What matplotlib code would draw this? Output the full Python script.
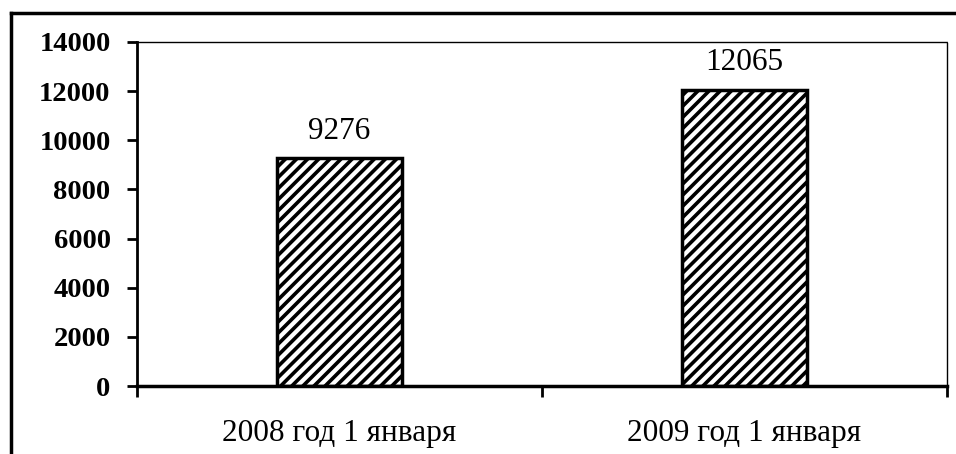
import matplotlib
matplotlib.use("Agg")
import matplotlib.pyplot as plt
from matplotlib.lines import Line2D

categories = ["2008 год 1 января", "2009 год 1 января"]
values = [9276, 12065]
yticks = [0, 2000, 4000, 6000, 8000, 10000, 12000, 14000]

plt.rcParams['font.family'] = ['Liberation Serif', 'DejaVu Serif']
plt.rcParams['hatch.linewidth'] = 2.6
plt.rcParams['hatch.color'] = 'black'

fig = plt.figure(figsize=(9.56, 4.54), dpi=100)
ax = fig.add_axes([137/956, 1-386/454, (947-137)/956, (386-42)/454])

x = list(range(len(categories)))
bars = ax.bar(x, values, width=0.31, color='white', edgecolor='black',
              linewidth=2.5, hatch='///')

ax.set_xlim(-0.5, len(categories) - 0.5)
ax.set_ylim(0, 14000)
ax.set_yticks(yticks)
ax.set_yticklabels([str(t) for t in yticks], fontsize=20.5, fontweight='bold')

ax.set_xticks(x)
ax.set_xticklabels(categories, fontsize=22.5)
ax.tick_params(axis='x', which='major', length=0, pad=24)
ax.set_xticks([-0.5, 0.5, 1.5], minor=True)
ax.tick_params(axis='x', which='minor', length=8, width=2, direction='out')
ax.tick_params(axis='y', length=7, width=2, direction='out', pad=12)

for b, v in zip(bars, values):
    ax.annotate(str(v), (b.get_x() + b.get_width()/2, v), xytext=(0, 9),
                textcoords='offset points', ha='center', va='bottom', fontsize=22.5)

ax.spines['left'].set_linewidth(2)
ax.spines['bottom'].set_linewidth(2.5)
for s in ['top', 'right']:
    ax.spines[s].set_linestyle((0, (1, 1)))
    ax.spines[s].set_linewidth(1.0)

# outer frame (top and left edges visible)
fig.add_artist(Line2D([11/956, 1.0], [1-13/454, 1-13/454], color='black', linewidth=2.5,
                      transform=fig.transFigure))
fig.add_artist(Line2D([11/956, 11/956], [0, 1-13/454], color='black', linewidth=2.5,
                      transform=fig.transFigure))

fig.savefig("out.png", dpi=100)
